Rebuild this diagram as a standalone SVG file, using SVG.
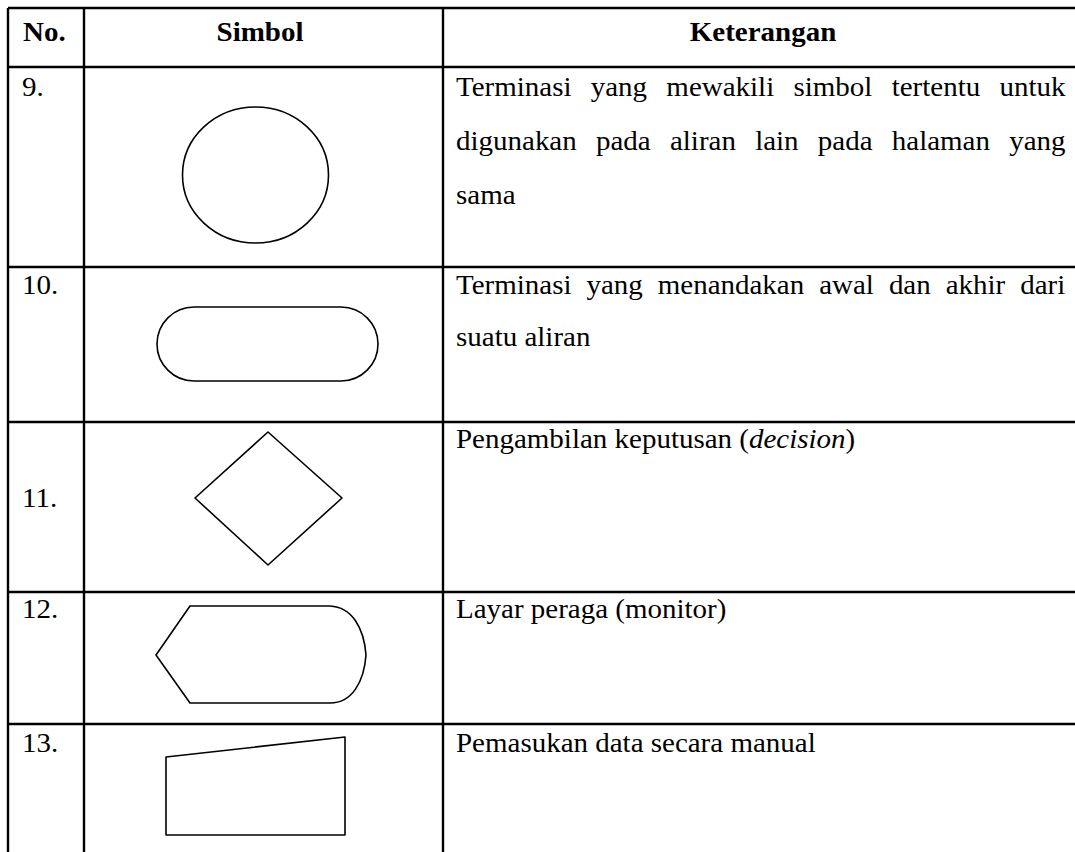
<svg xmlns="http://www.w3.org/2000/svg" width="1075" height="852" viewBox="0 0 1075 852">
<style>
.grid{stroke:#000;stroke-width:2.4;fill:none}
.sym{stroke:#000;stroke-width:1.6;fill:none;stroke-linejoin:round}
.t{font-family:"Liberation Serif","Times New Roman",serif;font-size:27px;fill:#000}
.h{font-family:"Liberation Serif","Times New Roman",serif;font-size:27px;font-weight:bold;fill:#000}
</style>
<rect width="1075" height="852" fill="#fff"/>
<g id="grid" class="grid">
<line x1="8" y1="8" x2="1075" y2="8"/>
<line x1="8" y1="67" x2="1075" y2="67"/>
<line x1="8" y1="267" x2="1075" y2="267"/>
<line x1="8" y1="422" x2="1075" y2="422"/>
<line x1="8" y1="592" x2="1075" y2="592"/>
<line x1="8" y1="724" x2="1075" y2="724"/>
<line x1="8" y1="8" x2="8" y2="852"/>
<line x1="84" y1="8" x2="84" y2="852"/>
<line x1="443" y1="8" x2="443" y2="852"/>
</g>
<g id="header">
<text class="h" transform="translate(23,41) scale(1.074,1)">No.</text>
<text class="h" text-anchor="middle" transform="translate(260,41) scale(1.074,1)">Simbol</text>
<text class="h" text-anchor="middle" transform="translate(763,41) scale(1.074,1)">Keterangan</text>
</g>
<g id="row9">
<text class="t" transform="translate(22,96) scale(1.074,1)">9.</text>
<ellipse class="sym" cx="255.5" cy="175" rx="73" ry="68"/>
<text class="t" transform="translate(456,96) scale(1.074,1)"><tspan>Terminasi</tspan><tspan dx="11.2"> yang</tspan><tspan dx="11.2"> mewakili</tspan><tspan dx="11.2"> simbol</tspan><tspan dx="11.2"> tertentu</tspan><tspan dx="11.2"> untuk</tspan></text>
<text class="t" transform="translate(456,150) scale(1.074,1)"><tspan>digunakan</tspan><tspan dx="11.17"> pada</tspan><tspan dx="11.17"> aliran</tspan><tspan dx="11.17"> lain</tspan><tspan dx="11.17"> pada</tspan><tspan dx="11.17"> halaman</tspan><tspan dx="11.17"> yang</tspan></text>
<text class="t" transform="translate(456,204) scale(1.074,1)">sama</text>
</g>
<g id="row10">
<text class="t" transform="translate(22,294) scale(1.074,1)">10.</text>
<rect class="sym" x="157" y="307" width="221" height="74" rx="37"/>
<text class="t" transform="translate(456,294) scale(1.074,1)"><tspan>Terminasi</tspan><tspan dx="7.2"> yang</tspan><tspan dx="7.2"> menandakan</tspan><tspan dx="7.2"> awal</tspan><tspan dx="7.2"> dan</tspan><tspan dx="7.2"> akhir</tspan><tspan dx="7.2"> dari</tspan></text>
<text class="t" transform="translate(456,346) scale(1.074,1)">suatu aliran</text>
</g>
<g id="row11">
<text class="t" transform="translate(22,507) scale(1.074,1)">11.</text>
<polygon class="sym" points="268,432 342,498 268,565 195,498"/>
<text class="t" transform="translate(456,448) scale(1.074,1)">Pengambilan keputusan (<tspan font-style="italic">decision</tspan>)</text>
</g>
<g id="row12">
<text class="t" transform="translate(22,618) scale(1.074,1)">12.</text>
<path class="sym" d="M190,606 L330,606 C352,607 364,628 366,655 C364,682 352,703 330,703 L190,703 L156,655 Z"/>
<text class="t" transform="translate(456,618) scale(1.074,1)">Layar peraga (monitor)</text>
</g>
<g id="row13">
<text class="t" transform="translate(22,752) scale(1.074,1)">13.</text>
<polygon class="sym" points="166,757 345,737 345,835 166,835"/>
<text class="t" transform="translate(456,752) scale(1.074,1)">Pemasukan data secara manual</text>
</g>
</svg>
